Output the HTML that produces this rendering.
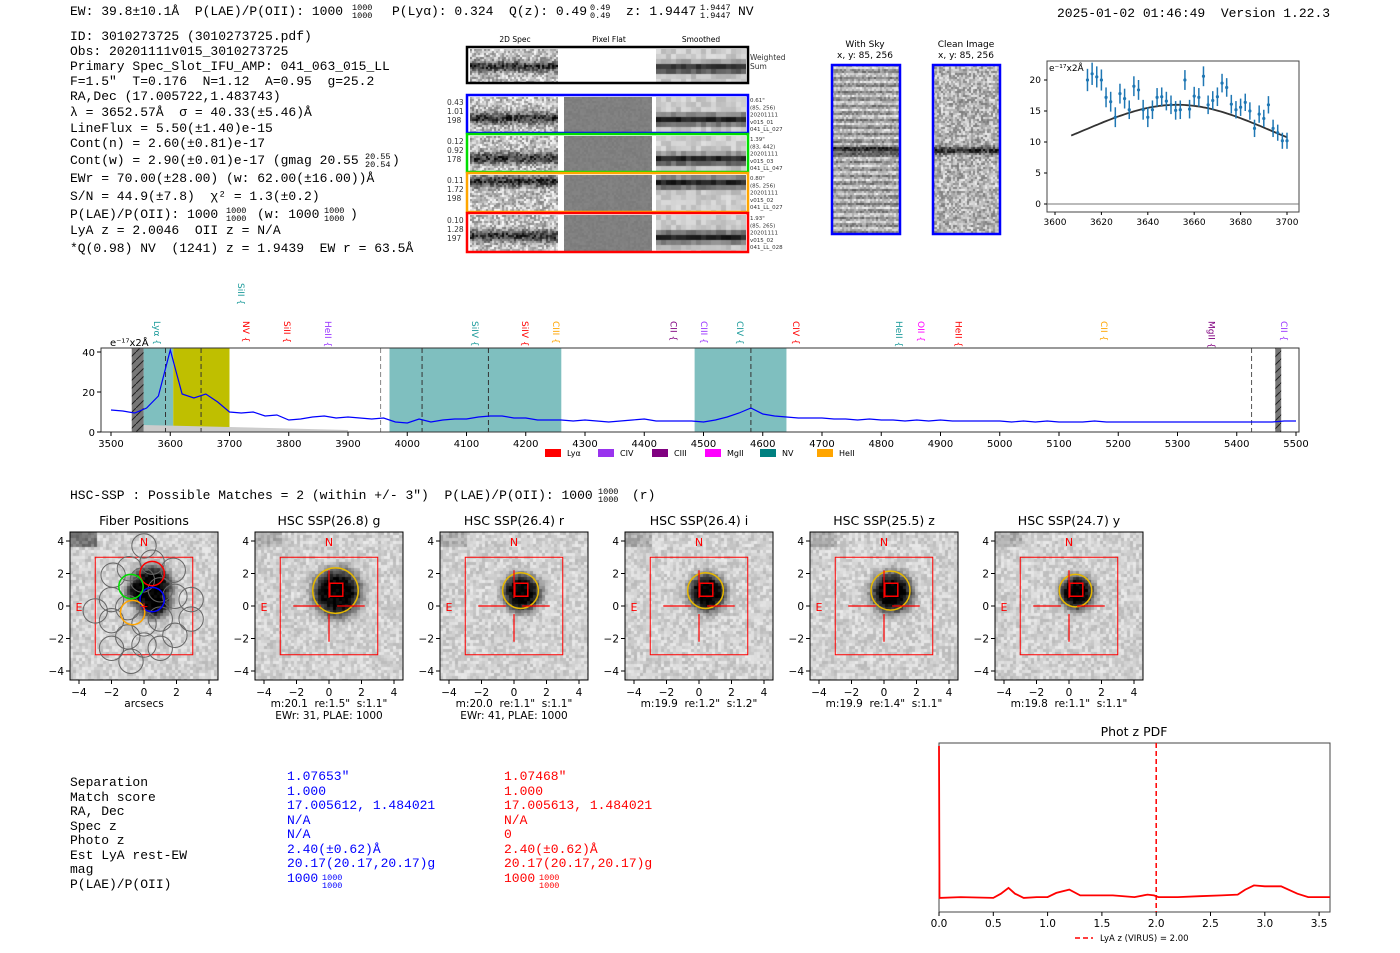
<!DOCTYPE html>
<html><head><meta charset="utf-8"><style>
body{margin:0;background:#fff;width:1400px;height:953px;overflow:hidden;position:relative;font-family:"DejaVu Sans","Liberation Sans",sans-serif}
canvas{position:absolute}
#main{position:absolute;left:0;top:0}
text{white-space:pre}
</style></head><body>
<svg id="main" width="1400" height="953" xmlns="http://www.w3.org/2000/svg" xml:space="preserve"></svg>
<script>
// ---------- data ----------
const specStart=3500, specStep=20;
const specFlux=[11,10.5,9.5,12,18,41,19,17,19,15,10,9.5,10,8,8.5,6,6.5,7.5,8,7,7.5,7,6.5,7,5,4.5,6.5,5,6,6.5,6.5,7.5,8,8,7,7,6,6,6,5.5,6,5.5,5,5.5,6,6.5,5.5,5.5,5.5,5.5,5,6,7.5,9.5,12,9,8,7.5,7,7,7,6.5,6.5,6,6.5,6,6,5.5,6,5.5,6,5.5,5.5,5.5,5.5,5.5,5,5.5,5,5.5,5,5,5,5.5,5,5,5,5,5,5,5,5,5,5,5,5,5,5,5,5.5,5.5];
const specTicks=[3500,3600,3700,3800,3900,4000,4100,4200,4300,4400,4500,4600,4700,4800,4900,5000,5100,5200,5300,5400,5500];
const specYTicks=[0,20,40];
const lineNames=["SiII","Lyα","NV","SiII","HeII","SiIV","SiIV","CIII","CII","CIII","CIV","CIV","HeII","OII","HeII","CII","MgII","CII"];
const lineWaves=[3719,3578,3728,3797,3866,4114,4199,4251,4449,4501,4562,4656,4830,4867,4930,5176,5357,5480];
const lineColors=["#1a9a9a","#1a9a9a","red","red","#9933ff","#1a9a9a","red","orange","#800080","#9933ff","#1a9a9a","red","#1a9a9a","magenta","red","orange","#800080","#9933ff"];
const fitWave=[3614,3616,3618,3620,3622,3624,3626,3628,3630,3632,3634,3636,3638,3640,3642,3644,3646,3648,3650,3652,3654,3656,3658,3660,3662,3664,3666,3668,3670,3672,3674,3676,3678,3680,3682,3684,3686,3688,3690,3692,3694,3696,3698,3700];
const fitFlux=[20,21,20.5,20,17.2,16.5,14,17.8,17,15.2,19,18.4,15.2,14,15.2,17.2,17.3,16.6,16,15.1,15.2,20,15.3,17.4,17.2,20.6,16,16.7,17.3,19.5,18.8,16.1,15.2,15.6,16.4,15,12.2,14.5,13.8,16,12.2,11.5,10.2,10.2];
const fitErr=[1.8,1.8,1.7,1.7,1.6,1.6,1.6,1.6,1.6,1.5,1.6,1.6,1.6,1.6,1.5,1.5,1.5,1.5,1.5,1.5,1.5,1.6,1.5,1.5,1.5,1.6,1.5,1.5,1.5,1.5,1.5,1.5,1.4,1.4,1.4,1.4,1.4,1.4,1.4,1.4,1.4,1.3,1.3,1.3];
const fitModel={cont:5.5,amp:10.5,mu:3652.6,sigma:40.3};
const fitXTicks=[3600,3620,3640,3660,3680,3700];
const fitYTicks=[0,5,10,15,20];
const pdfZ=[0,0.005,0.2,0.5,0.57,0.64,0.7,0.78,0.9,1.0,1.08,1.2,1.3,1.4,1.6,1.8,1.92,1.98,2.02,2.2,2.4,2.6,2.75,2.82,2.9,3.0,3.15,3.3,3.4,3.6];
const pdfP=[1.0,0.085,0.09,0.085,0.11,0.145,0.11,0.085,0.09,0.09,0.115,0.135,0.1,0.1,0.1,0.09,0.105,0.1,0.09,0.09,0.095,0.1,0.105,0.135,0.16,0.155,0.155,0.11,0.09,0.09];
const pdfXTicks=[0.0,0.5,1.0,1.5,2.0,2.5,3.0,3.5];
const vLineZ=2.0;
// ---------- helpers ----------
const svg=document.getElementById('main');const NS='http://www.w3.org/2000/svg';
function el(tag,a,parent){const e=document.createElementNS(NS,tag);for(const k in a)e.setAttribute(k,a[k]);(parent||svg).appendChild(e);return e;}
function txt(x,y,s,a,parent){const e=el('text',Object.assign({x:x,y:y,'font-size':11,fill:'#000'},a||{}),parent);e.textContent=s;return e;}
function hash(i,j,s){let h=(i*374761393+j*668265263+s*2147483647)|0;h=(h^(h>>>13))*1274126177|0;return ((h^(h>>>16))>>>0)/4294967296;}
function noiseCanvas(name,x,y,w,h,cell,fn,seed){const c=document.createElement('canvas');c.width=w;c.height=h;c.style.left=x+'px';c.style.top=y+'px';
 
 
 document.body.insertBefore(c,svg);const g=c.getContext('2d');
 for(let j=0;j<h;j+=cell)for(let i=0;i<w;i+=cell){let v=fn(i/w,j/h,hash(i,j,seed));v=Math.max(0,Math.min(255,v|0));g.fillStyle=`rgb(${v},${v},${v})`;g.fillRect(i,j,cell,cell);}}
// ---------- header text ----------
const hdr=el('g',{});
function mt(x,y,s,parent,fill){return txt(x,y,s,{'font-family':'Liberation Mono, monospace','font-size':13,fill:fill||'#000'},parent);}
function supsub(x,y,a,b,parent,fill){txt(x,y-5,a,{'font-family':'Liberation Mono, monospace','font-size':8.5,fill:fill||'#000'},parent);txt(x,y+3,b,{'font-family':'Liberation Mono, monospace','font-size':8.5,fill:fill||'#000'},parent);}
mt(70,15,'EW: 39.8±10.1Å  P(LAE)/P(OII): 1000',hdr);supsub(352,15,'1000','1000',hdr);
mt(392,15,'P(Lyα): 0.324  Q(z): 0.49',hdr);supsub(590,15,'0.49','0.49',hdr);
mt(626,15,'z: 1.9447',hdr);supsub(700,15,'1.9447','1.9447',hdr);mt(738,15,'NV',hdr);
mt(1057,17,'2025-01-02 01:46:49  Version 1.22.3',hdr);
const info=el('g',{});
const lines=[[40,'ID: 3010273725 (3010273725.pdf)'],[55,'Obs: 20201111v015_3010273725'],[70,'Primary Spec_Slot_IFU_AMP: 041_063_015_LL'],[85,'F=1.5"  T=0.176  N=1.12  A=0.95  g=25.2'],[100,'RA,Dec (17.005722,1.483743)'],[116,'λ = 3652.57Å  σ = 40.33(±5.46)Å'],[132,'LineFlux = 5.50(±1.40)e-15'],[147,'Cont(n) = 2.60(±0.81)e-17'],[164,'Cont(w) = 2.90(±0.01)e-17 (gmag 20.55'],[182,'EWr = 70.00(±28.00) (w: 62.00(±16.00))Å'],[200,'S/N = 44.9(±7.8)  χ² = 1.3(±0.2)'],[218,'P(LAE)/P(OII): 1000'],[234,'LyA z = 2.0046  OII z = N/A'],[252,'*Q(0.98) NV  (1241) z = 1.9439  EW r = 63.5Å']];
lines.forEach(l=>mt(70,l[0],l[1],info));
supsub(365,164,'20.55','20.54',info);mt(392,164,')',info);
supsub(226,218,'1000','1000',info);mt(257,218,'(w: 1000',info);supsub(324,218,'1000','1000',info);mt(350,218,')',info);
// ---------- 2D spectra ----------
const sp=el('g',{});
txt(515,42,'2D Spec',{'font-size':7.5,'text-anchor':'middle'},sp);txt(609,42,'Pixel Flat',{'font-size':7.5,'text-anchor':'middle'},sp);txt(701,42,'Smoothed',{'font-size':7.5,'text-anchor':'middle'},sp);
const rows=[{y:47,h:36,col:'#000',band:0.5,lab:null,r:['Weighted','Sum'],w:true},{y:95,h:38,col:'blue',band:0.58,lab:['0.43','1.01','198'],r:['0.61"','(85, 256)','20201111','v015_01','041_LL_027']},{y:134,h:38,col:'#00dd00',band:0.6,lab:['0.12','0.92','178'],r:['1.39"','(83, 442)','20201111','v015_03','041_LL_047']},{y:173,h:39,col:'orange',band:0.15,lab:['0.11','1.72','198'],r:['0.80"','(85, 256)','20201111','v015_02','041_LL_027']},{y:213,h:39,col:'red',band:0.55,lab:['0.10','1.28','197'],r:['1.93"','(85, 265)','20201111','v015_02','041_LL_028']}];
rows.forEach((r,k)=>{
 const bandF=(u,v,n)=>{const d=Math.abs(v-r.band);return 195-140*Math.exp(-d*d/0.025)+(n-0.5)*130;};
 noiseCanvas('spec-2d-row-'+k,470,r.y+2,88,r.h-3,2,bandF,k+1);
 if(!r.w)noiseCanvas('pixel-flat-row-'+k,564,r.y+2,88,r.h-3,2,(u,v,n)=>128+(n-0.5)*12,k+11);
 noiseCanvas('smoothed-row-'+k,656,r.y+2,90,r.h-3,5,(u,v,n)=>{const d=Math.abs(v-r.band);return 205-170*Math.exp(-d*d/0.025)+(n-0.5)*40;},k+21);
 el('rect',{x:467,y:r.y,width:281,height:r.h,fill:'none',stroke:r.col,'stroke-width':2.5,},sp);
 if(r.lab)r.lab.forEach((s,i)=>txt(447,r.y+10+i*9,s,{'font-size':7.5,fill:'#333'},sp));
 r.r.forEach((s,i)=>txt(750,r.y+(r.w?13:7)+i*(r.w?9:7.3),s,{'font-size':r.w?7.5:5.5,fill:'#333'},sp));
});
// sky / clean
txt(865,47,'With Sky',{'font-size':9,'text-anchor':'middle'});txt(865,58,'x, y: 85, 256',{'font-size':9,'text-anchor':'middle'});
txt(966,47,'Clean Image',{'font-size':9,'text-anchor':'middle'});txt(966,58,'x, y: 85, 256',{'font-size':9,'text-anchor':'middle'});
noiseCanvas('with-sky-image',832,65,68,169,2,(u,v,n)=>{const d=Math.abs(v-0.5);return 170+45*Math.sin(v*169*6.283/7)-120*Math.exp(-d*d/0.0006)+(n-0.5)*80;},31);
noiseCanvas('clean-image',933,65,67,169,2,(u,v,n)=>{const d=Math.abs(v-0.5);return 180-130*Math.exp(-d*d/0.0005)+(n-0.5)*120;},32);
el('rect',{x:832,y:65,width:68,height:169,fill:'none',stroke:'blue','stroke-width':2.5,});
el('rect',{x:933,y:65,width:67,height:169,fill:'none',stroke:'blue','stroke-width':2.5,});
// ---------- fit plot ----------
const fg=el('g',{});
const fx=w=>1055+(w-3600)*2.32, fy=v=>204-v*6.2;
el('rect',{x:1047,y:61,width:252,height:151,fill:'none',stroke:'#444'},fg);
el('line',{x1:1047,x2:1299,y1:fy(0),y2:fy(0),stroke:'#777'},fg);
fitXTicks.forEach(t=>{el('line',{x1:fx(t),x2:fx(t),y1:212,y2:215,stroke:'#000'},fg);txt(fx(t),225,String(t),{'font-size':9,'text-anchor':'middle'},fg);});
fitYTicks.forEach(t=>{el('line',{x1:1044,x2:1047,y1:fy(t),y2:fy(t),stroke:'#000'},fg);txt(1041,fy(t)+3,String(t),{'font-size':9,'text-anchor':'end'},fg);});
txt(1049,71,'e⁻¹⁷x2Å',{'font-size':9},fg);
let mp='';for(let w=3607;w<=3700;w+=1){const v=fitModel.cont+fitModel.amp*Math.exp(-((w-fitModel.mu)**2)/(2*fitModel.sigma**2));mp+=(mp?'L':'M')+fx(w).toFixed(1)+' '+fy(v).toFixed(1);}
el('path',{d:mp,fill:'none',stroke:'#333','stroke-width':1.8,},fg);
fitWave.forEach((w,i)=>{
 const e=el('line',{x1:fx(w),x2:fx(w),y1:fy(fitFlux[i]-fitErr[i]),y2:fy(fitFlux[i]+fitErr[i]),stroke:'#1f77b4','stroke-width':1.5},fg);
 
 
 const p=el('circle',{cx:fx(w),cy:fy(fitFlux[i]),r:1.6,fill:'#1f77b4'},fg);
 
 
});
// ---------- full spectrum ----------
const sg=el('g',{});
const sx=w=>111+(w-3500)*0.5925, sy=f=>432-Math.min(f,42)*2;
const defs=el('defs',{});const pat=el('pattern',{id:'hat',width:8,height:8,patternUnits:'userSpaceOnUse'},defs);el('rect',{width:8,height:8,fill:'#777'},pat);el('path',{d:'M0 8L8 0',stroke:'#222','stroke-width':1},pat);
el('rect',{x:101,y:348,width:1198,height:84,fill:'#fff'},sg);
[[3555,3605,'#7fbfbf'],[3605,3700,'#bfbf00'],[3970,4260,'#7fbfbf'],[4485,4640,'#7fbfbf']].forEach(b=>el('rect',{x:sx(b[0]),y:348,width:sx(b[1])-sx(b[0]),height:84,fill:b[2],},sg));
el('rect',{x:sx(3535),y:348,width:sx(3555)-sx(3535),height:84,fill:'url(#hat)',},sg);
el('rect',{x:sx(5465),y:348,width:sx(5475)-sx(5465),height:84,fill:'url(#hat)',},sg);
el('path',{d:`M${sx(3555)} 432L${sx(3555)} 425L${sx(3700)} 427L${sx(3900)} 430L${sx(3900)} 432Z`,fill:'#ccc'},sg);
[[3592,'#333'],[3652,'#333'],[3955,'#888'],[4025,'#333'],[4137,'#333'],[4580,'#333'],[5425,'#555']].forEach(v=>el('line',{x1:sx(v[0]),x2:sx(v[0]),y1:348,y2:432,stroke:v[1],'stroke-dasharray':'5,3',},sg));
let d='';specFlux.forEach((f,i)=>{d+=(i?'L':'M')+sx(specStart+i*specStep).toFixed(1)+' '+sy(f).toFixed(1);});
el('path',{d:d,fill:'none',stroke:'blue','stroke-width':1.2,},sg);
el('rect',{x:101,y:348,width:1198,height:84,fill:'none',stroke:'#333'},sg);
specTicks.forEach(t=>{el('line',{x1:sx(t),x2:sx(t),y1:432,y2:436,stroke:'#000'},sg);txt(sx(t),447,String(t),{'font-size':10,'text-anchor':'middle'},sg);});
specYTicks.forEach(t=>{el('line',{x1:97,x2:101,y1:sy(t),y2:sy(t),stroke:'#000'},sg);txt(95,sy(t)+4,String(t),{'font-size':10,'text-anchor':'end'},sg);});
txt(110,346,'e⁻¹⁷x2Å',{'font-size':10},sg);
lineNames.forEach((n,i)=>{const x=sx(lineWaves[i]);const y=(i===0)?283:321;
 const t=txt(0,0,n+' {',{'font-size':9,fill:lineColors[i],transform:`translate(${x-3},${y}) rotate(90)`},sg);
 
 
});
[['red','Lyα',545],['#9933ee','CIV',598],['#800080','CIII',652],['magenta','MgII',705],['#008080','NV',760],['orange','HeII',817]].forEach(l=>{el('rect',{x:l[2],y:449,width:16,height:8,fill:l[0],},sg);txt(l[2]+22,456,l[1],{'font-size':8},sg);});
// ---------- HSC ----------
mt(70,499,'HSC-SSP : Possible Matches = 2 (within +/- 3")  P(LAE)/P(OII): 1000',null);supsub(598,499,'1000','1000',null);mt(632,499,'(r)');
const titles=['Fiber Positions','HSC SSP(26.8) g','HSC SSP(26.4) r','HSC SSP(26.4) i','HSC SSP(25.5) z','HSC SSP(24.7) y'];
const cap1=['arcsecs','m:20.1  re:1.5"  s:1.1"','m:20.0  re:1.1"  s:1.1"','m:19.9  re:1.2"  s:1.2"','m:19.9  re:1.4"  s:1.1"','m:19.8  re:1.1"  s:1.1"'];
const cap2=['','EWr: 31, PLAE: 1000','EWr: 41, PLAE: 1000','','',''];
const blobR=[1.3,1.4,1.1,1.1,1.2,1.0];
titles.forEach((t,k)=>{
 const cx=144+k*185,cy=606,s=16.25;const g=el('g',{});
 const L=cx-74,T=532;
 noiseCanvas('hsc-image-'+k,L,T,148,148,3,(u,v,n)=>{const ax=(u*148-74)/s,ay=-(v*148-74)/s;let r2=((ax-0.4)**2+(ay-0.9)**2)/(blobR[k]**2);
   if(k===0)r2=Math.min(((ax-0.4)**2+(ay-1.3)**2)/1.4,((ax-0.5)**2+(ay-0.4)**2)/1.0,((ax+0.2)**2+(ay-1.0)**2)/0.8);
   let b=210-220*Math.exp(-Math.pow(r2,2)*0.7);if(ax<-3&&ay>3.8)b-=(k===0?90:35);return b+(n-0.5)*50;},100+k);
 el('rect',{x:L,y:T,width:148,height:148,fill:'none',stroke:'#000'},g);
 txt(cx,525,t,{'font-size':12.5,'text-anchor':'middle'},g);
 [-4,-2,0,2,4].forEach(v=>{el('line',{x1:cx+v*s,x2:cx+v*s,y1:680,y2:684,stroke:'#000'},g);txt(cx+v*s,696,String(v).replace('-','−'),{'font-size':10.5,'text-anchor':'middle'},g);
   el('line',{x1:L-4,x2:L,y1:cy-v*s,y2:cy-v*s,stroke:'#000'},g);txt(L-6,cy-v*s+4,String(v).replace('-','−'),{'font-size':10.5,'text-anchor':'end'},g);});
 txt(cx,707,cap1[k],{'font-size':10.5,'text-anchor':'middle'},g);if(cap2[k])txt(cx,719,cap2[k],{'font-size':10.5,'text-anchor':'middle'},g);
 el('rect',{x:cx-3*s,y:cy-3*s,width:6*s,height:6*s,fill:'none',stroke:'red','stroke-width':1},g);
 txt(cx,546,'N',{'font-size':11,fill:'red','text-anchor':'middle'},g);txt(cx-4*s,611,'E',{'font-size':11,fill:'red','text-anchor':'middle'},g);
 if(k===0){
  const fib=[[0.5,2.7],[-1.9,1.9],[-0.9,2.3],[1.8,2.2],[-0.1,1.6],[1.0,1.0],[1.9,0.6],[-2.0,0.4],[-1.0,-0.1],[2.9,0.4],[-3.0,-0.3],[-2.0,-0.9],[0.0,-1.1],[1.0,-0.8],[2.9,-0.8],[-1.0,-1.9],[1.9,-1.8],[-2.0,-2.6],[0.0,-2.4],[1.0,-2.6],[-0.8,-3.4],[0.0,3.7]];
  fib.forEach(f=>el('circle',{cx:cx+f[0]*s,cy:cy-f[1]*s,r:0.75*s,fill:'none',stroke:'#666','stroke-width':1},g));
  [[0.5,2.0,'red'],[0.5,0.4,'blue'],[-0.8,1.2,'#00dd00'],[-0.7,-0.4,'orange']].forEach(f=>el('circle',{cx:cx+f[0]*s,cy:cy-f[1]*s,r:0.75*s,fill:'none',stroke:f[2],'stroke-width':1.5,},g));
  txt(cx,610,'+',{'font-size':11,fill:'red','text-anchor':'middle'},g);
 } else {
  el('circle',{cx:cx+0.4*s,cy:cy-0.95*s,r:blobR[k]*s,fill:'none',stroke:'#e6b800','stroke-width':1.5,},g);
  el('rect',{x:cx+0.05*s,y:cy-1.4*s,width:0.8*s,height:0.8*s,fill:'none',stroke:'red','stroke-width':1.5},g);
  el('path',{d:`M${cx-2.2*s} ${cy}H${cx-0.5*s}M${cx+0.5*s} ${cy}H${cx+2.2*s}M${cx} ${cy+0.5*s}V${cy+2.2*s}M${cx} ${cy-0.5*s}V${cy-2.2*s}`,stroke:'red','stroke-width':1.2},g);
 }
});
// ---------- bottom table ----------
const tb=el('g',{});
const labels=['Separation','Match score','RA, Dec','Spec z','Photo z','Est LyA rest-EW','mag','P(LAE)/P(OII)'];
const colB=['1.07653"','1.000','17.005612, 1.484021','N/A','N/A','2.40(±0.62)Å','20.17(20.17,20.17)g','1000'];
const colR=['1.07468"','1.000','17.005613, 1.484021','N/A','0','2.40(±0.62)Å','20.17(20.17,20.17)g','1000'];
const ry=[786,801,815,830,844,859,873,888];
labels.forEach((l,i)=>{mt(70,ry[i],l,tb);mt(287,ry[i]-6,colB[i],tb,'blue');mt(504,ry[i]-6,colR[i],tb,'red');});
supsub(322,885,'1000','1000',tb,'blue');supsub(539,885,'1000','1000',tb,'red');
// ---------- phot z pdf ----------
const pg=el('g',{});
const px=z=>939+z*108.6, py=p=>912-p*166;
txt(1134,736,'Phot z PDF',{'font-size':12.5,'text-anchor':'middle'},pg);
el('rect',{x:939,y:743,width:391,height:169,fill:'none',stroke:'#444'},pg);
pdfXTicks.forEach(t=>{el('line',{x1:px(t),x2:px(t),y1:912,y2:916,stroke:'#000'},pg);txt(px(t),927,t.toFixed(1),{'font-size':10.5,'text-anchor':'middle'},pg);});
let pd='';pdfZ.forEach((z,i)=>{pd+=(i?'L':'M')+px(z).toFixed(1)+' '+py(pdfP[i]).toFixed(1);});
el('path',{d:pd,fill:'none',stroke:'red','stroke-width':1.8,},pg);
el('line',{x1:px(vLineZ),x2:px(vLineZ),y1:743,y2:912,stroke:'red','stroke-width':1.5,'stroke-dasharray':'5,3',},pg);
el('line',{x1:1075,x2:1093,y1:938,y2:938,stroke:'red','stroke-width':1.5,'stroke-dasharray':'5,3'},pg);
txt(1100,941,'LyA z (VIRUS) = 2.00',{'font-size':8.5},pg);
</script>
</body></html>
